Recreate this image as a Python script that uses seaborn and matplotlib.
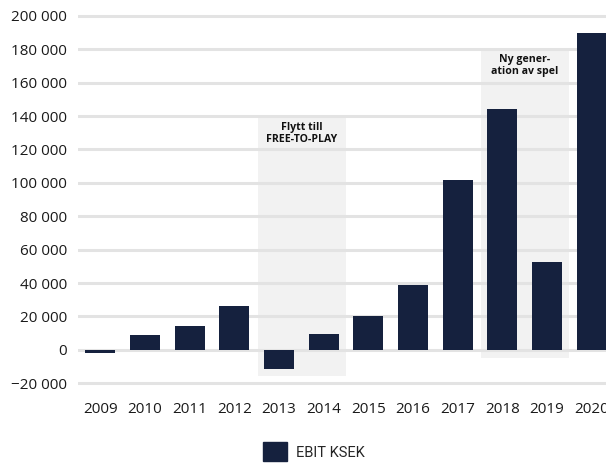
import numpy as np
import pandas as pd
import matplotlib.pyplot as plt
import matplotlib.patches as mpatches
import seaborn as sns

# data
years = ['2009', '2010', '2011', '2012', '2013', '2014',
         '2015', '2016', '2017', '2018', '2019', '2020']
ebit = [-2000, 9000, 14500, 26000, -11500, 9500,
        20000, 39000, 102000, 144000, 52500, 190000]
y_ticks = [-20000, 0, 20000, 40000, 60000, 80000, 100000,
           120000, 140000, 160000, 180000, 200000]
notes = ['Flytt till\nFREE-TO-PLAY', 'Ny gener-\nation av spel']
note_spans = [(3.52, 5.5), (8.52, 10.5)]       # category ranges
note_boxes = [(-15500, 139000), (-5000, 180000)]  # value ranges

df = pd.DataFrame({'year': years, 'ebit': ebit})

sns.set_theme(style='white')
plt.rcParams['font.family'] = ['Open Sans', 'DejaVu Sans']

navy = '#15213e'
fig = plt.figure(figsize=(6.06, 4.72), dpi=100)
ax = fig.add_axes([0.1287, 0.181, 0.8845, 0.8066])

# grey highlight boxes behind the bars
for (x0, x1), (y0, y1), txt in zip(note_spans, note_boxes, notes):
    ax.add_patch(mpatches.Rectangle((x0, y0), x1 - x0, y1 - y0,
                                    color='#f2f2f2', zorder=0, lw=0))
    ax.text((x0 + x1) / 2, y1 - 2800, txt, ha='center', va='top',
            fontsize=7.6, fontweight='bold', color='#111111',
            linespacing=1.1, zorder=4)

for t in y_ticks:
    ax.axhline(t, color='#e3e3e3', lw=2.2, zorder=1)

sns.barplot(data=df, x='year', y='ebit', color=navy, width=0.67,
            saturation=1, linewidth=0, ax=ax, zorder=3)

ax.set_xlim(-0.5, 11.5)
ax.set_ylim(-22000, 206000)
ax.set_yticks(y_ticks)
ax.set_yticklabels([f'{v:,}'.replace(',', ' ').replace('-', '\u2212') for v in y_ticks])
ax.set_xlabel('')
ax.set_ylabel('')
ax.tick_params(axis='both', length=0, labelsize=11, labelcolor='#1a1a1a')
ax.tick_params(axis='y', pad=8)
ax.tick_params(axis='x', pad=11)
for s in ax.spines.values():
    s.set_visible(False)

handle = mpatches.Patch(color=navy, label='EBIT KSEK')
leg = fig.legend(handles=[handle], loc='lower center', bbox_to_anchor=(0.518, -0.005),
                 frameon=False, handlelength=1.6, handleheight=1.6, handletextpad=0.6,
                 prop={'family': 'Roboto', 'size': 10.5})

fig.savefig('out.png', dpi=100)
